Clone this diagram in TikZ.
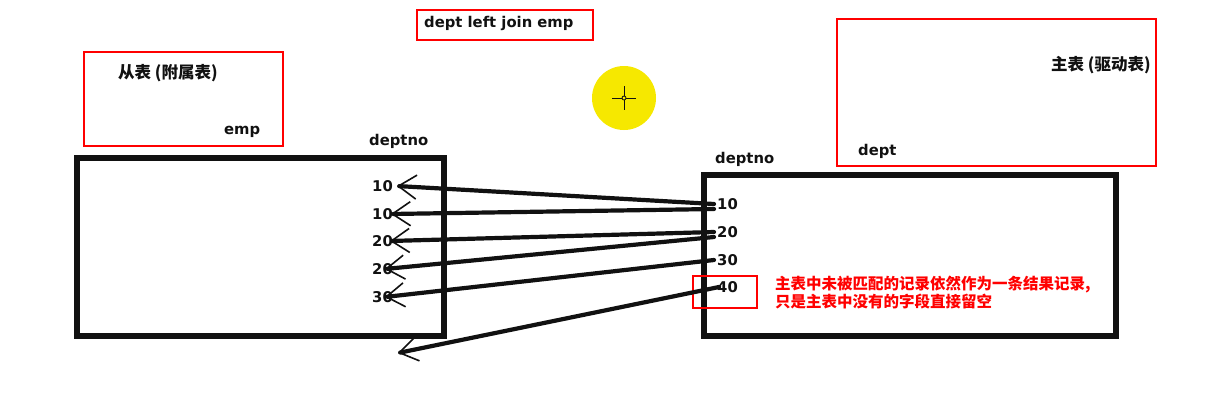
\documentclass[tikz,border=0pt]{standalone}
\usepackage{fontspec}
\setmainfont{DejaVu Sans}
\newfontfamily\cjk{Noto Sans CJK SC}
\usetikzlibrary{arrows.meta,positioning}
\definecolor{mark}{RGB}{255,0,0}
\definecolor{hilite}{RGB}{246,232,0}
\definecolor{ink}{RGB}{17,17,17}
\tikzset{
  tbl/.style={draw=ink, line width=5.5pt},
  note/.style={draw=mark, line width=2pt},
  lbl/.style={font=\fontsize{14.8}{16}\selectfont\bfseries, text=ink, inner sep=0pt, anchor=west},
  zh/.style={font=\fontsize{16.5}{18}\selectfont\cjk\bfseries, text=ink, inner sep=0pt, anchor=west},
  warn/.style={font=\fontsize{15.5}{16}\selectfont\cjk\bfseries, text=mark, inner sep=0pt, anchor=west, align=left},
  link/.style={draw=ink, line width=4.2pt, line cap=round, -{Straight Barb[length=18pt, width=24pt, line width=1.6pt]}}
}
\begin{document}
\begin{tikzpicture}[x=1pt, y=-1pt]
\useasboundingbox[fill=white] (0,0) rectangle (1225,402);

% title
\draw[note] (417,10) rectangle (593,40);
\node[lbl] (title) at (424,23) {dept left join emp};

% cursor highlight
\fill[hilite] (624,98) circle (32);
\draw[ink, line width=0.8pt] (612,98) -- (636,98) (624,86) -- (624,110);
\draw[ink, line width=0.8pt, fill=hilite] (624,98) circle (2);

% emp side
\draw[note] (84,52) rectangle (283,146);
\node[zh] (empzh) at (118,73) {从表 (附属表)};
\node[lbl] (empname) at (224,132) {emp};
\draw[tbl] (77,158) rectangle (444,336);
\node[lbl] (hdL) at (369,141) {deptno};
\node[lbl] (l1) at (372,186) {10};
\node[lbl] (l2) at (372,214) {10};
\node[lbl] (l3) at (372,241) {20};
\node[lbl] (l4) at (372,269) {20};
\node[lbl] (l5) at (372,297) {30};

% dept side
\draw[note] (837,19) rectangle (1156,166);
\node[zh] (deptzh) at (1051,65) {主表 (驱动表)};
\node[lbl] (deptname) at (858,151) {dept};
\draw[tbl] (704,175) rectangle (1116,336);
\node[lbl] (hdR) at (715,159) {deptno};
\node[lbl] (r1) at (717,204) {10};
\node[lbl] (r2) at (717,232) {20};
\node[lbl] (r3) at (717,260) {30};
\node[lbl] (r4) at (717,287) {40};
\draw[note] (693,276) rectangle (757,308);
\node[warn] (msg) at (775,293) {主表中未被匹配的记录依然作为一条结果记录,\\只是主表中没有的字段直接留空};

% matches
\coordinate (miss) at (398,353);
\draw[link] ([xshift=-3pt]r1.west) -- ([xshift=4pt]l1.east);
\draw[link] ([xshift=-3pt, yshift=-5pt]r1.west) -- ([xshift=-2pt]l2.east);
\draw[link] ([xshift=-3pt]r2.west) -- ([xshift=-3pt]l3.east);
\draw[link] ([xshift=-3pt, yshift=-5pt]r2.west) -- ([xshift=-8pt]l4.east);
\draw[link] ([xshift=-3pt]r3.west) -- ([xshift=-8pt]l5.east);
\draw[link] ([xshift=2pt]r4.west) -- (miss);
\end{tikzpicture}
\end{document}
